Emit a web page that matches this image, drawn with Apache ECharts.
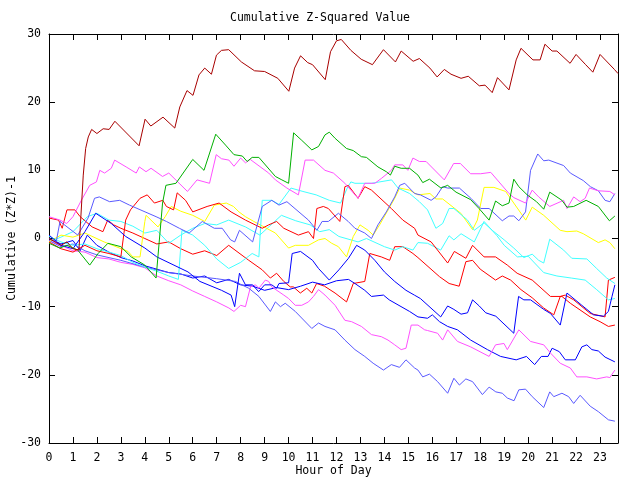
<!DOCTYPE html>
<html><head><meta charset="utf-8">
<script src="https://cdn.jsdelivr.net/npm/echarts@6/dist/echarts.min.js"></script>
<style>html,body{margin:0;padding:0;background:#fff}#c{width:640px;height:480px}</style>
</head><body><div id="c"></div>
<script>
const titleText = 'Cumulative Z-Squared Value';
const xTitle = 'Hour of Day';
const yTitle = 'Cumulative (Z*Z)-1';
const hourTicks = [0,1,2,3,4,5,6,7,8,9,10,11,12,13,14,15,16,17,18,19,20,21,22,23];

const darkRed = [[0,0],[0.5,-1],[0.75,-0.5],[1.0,-1.5],[1.25,-1.7],[1.43,9.3],[1.53,13.2],[1.64,14.9],[1.78,16.0],[2.0,15.4],[2.26,16.1],[2.51,16.0],[2.75,17.2],[3.76,13.6],[4.01,17.5],[4.25,16.5],[4.76,17.8],[5.25,16.2],[5.46,19.3],[5.76,21.7],[6.01,21.0],[6.26,24.0],[6.5,25.0],[6.78,24.1],[6.99,26.9],[7.2,27.6],[7.5,27.7],[8.03,25.9],[8.58,24.6],[9.0,24.5],[9.55,23.5],[10.01,21.6],[10.25,25.0],[10.5,26.8],[10.8,25.8],[11.0,25.5],[11.53,23.3],[11.75,27.4],[12.0,29.0],[12.2,29.2],[12.6,27.6],[13.03,26.3],[13.5,25.5],[13.96,27.7],[14.46,25.9],[14.7,27.5],[15.2,26.0],[15.46,26.4],[15.9,25.0],[16.2,23.7],[16.5,24.8],[16.78,24.1],[17.2,23.5],[17.5,23.8],[17.96,22.4],[18.2,22.5],[18.5,21.4],[18.72,23.6],[19.2,21.8],[19.5,26.2],[19.7,27.9],[20.2,26.2],[20.5,26.2],[20.7,28.5],[21.0,27.5],[21.2,27.5],[21.75,25.7],[22.0,27.0],[22.4,25.5],[22.7,24.4],[23.0,27.0],[23.6,24.8],[23.75,24.2]];

const green = [[0,-0.7],[0.45,-1.4],[0.75,-1.0],[1.2,-1.7],[1.7,-3.9],[2.05,-2.2],[2.46,-0.7],[3.0,-1.2],[3.43,-2.7],[4.0,-3.9],[4.47,-5.8],[4.74,5.2],[4.88,7.8],[5.3,8.1],[6.0,11.6],[6.47,10.0],[6.96,15.3],[7.37,13.7],[7.72,12.3],[8.07,12.1],[8.27,11.3],[8.48,11.9],[8.76,11.9],[9.45,9.1],[9.72,8.6],[10.0,8.1],[10.21,15.5],[10.55,14.4],[10.97,13.0],[11.25,13.5],[11.52,15.2],[11.7,15.6],[11.94,14.7],[12.42,13.2],[12.7,12.9],[13.04,12.0],[13.25,11.9],[13.73,10.5],[14.08,9.8],[14.25,9.3],[14.43,10.6],[14.7,10.3],[15.05,10.3],[15.4,9.3],[15.6,8.2],[15.88,8.7],[16.36,7.4],[16.64,7.8],[16.99,6.8],[17.6,5.7],[17.95,4.4],[18.37,2.7],[18.64,5.5],[18.92,4.8],[19.2,5.2],[19.4,8.7],[19.61,7.6],[19.96,6.4],[20.35,5.4],[20.65,4.3],[20.9,6.8],[21.41,5.6],[21.62,4.6],[21.9,4.7],[22.42,5.6],[22.93,4.7],[23.39,2.6],[23.62,3.3]];

const magentaUpper = [[0,3.2],[0.46,2.7],[0.74,2.2],[1.0,3.2],[1.35,5.6],[1.7,7.8],[1.98,8.3],[2.12,10.0],[2.32,9.6],[2.6,10.3],[2.74,11.5],[3.22,10.5],[3.64,9.6],[3.77,10.5],[4.05,9.8],[4.26,10.3],[4.74,9.1],[5.0,9.6],[5.78,6.9],[6.18,8.6],[6.7,8.1],[6.98,12.3],[7.2,11.7],[7.51,11.5],[7.72,10.6],[8.0,11.8],[8.2,11.1],[8.4,11.6],[9.17,9.6],[9.45,8.6],[9.93,7.4],[10.41,6.4],[10.69,11.5],[11.04,11.5],[11.52,10.0],[11.87,9.6],[12.35,8.1],[12.9,5.9],[13.18,8.1],[13.6,8.1],[13.87,8.8],[14.29,10.0],[14.43,10.8],[14.77,10.8],[14.98,10.0],[15.19,11.8],[15.46,11.3],[15.74,11.3],[16.5,8.6],[16.89,11.0],[17.17,11.0],[17.6,9.5],[18.02,9.5],[18.44,9.7],[19.2,6.6],[19.4,6.0],[19.89,5.2],[20.17,7.1],[20.44,6.1],[20.9,4.7],[21.48,5.6],[21.62,4.4],[21.9,6.1],[22.17,5.4],[22.38,5.9],[22.56,7.4],[22.93,7.0],[23.41,6.9],[23.62,6.4]];

const lightBlueUpper = [[0,0],[0.3,-0.5],[0.46,2.5],[1.2,0.5],[1.63,3.0],[1.9,5.9],[2.1,6.1],[2.53,5.4],[2.95,5.6],[3.36,4.9],[4.47,3.2],[4.9,2.5],[5.44,1.5],[5.85,0.8],[6.4,2.5],[6.9,1.5],[7.23,1.5],[7.58,-0.2],[7.75,-0.5],[7.95,1.2],[8.5,-0.5],[8.9,4.7],[9.3,5.6],[9.6,4.9],[9.93,5.4],[10.83,2.7],[11.18,1.2],[11.4,2.5],[11.66,2.5],[12.08,3.7],[12.49,2.5],[12.77,1.5],[13.18,0.8],[13.46,0],[13.73,2.0],[14.08,3.9],[14.43,6.1],[14.64,7.8],[14.85,8.1],[15.26,6.6],[15.5,6.4],[15.95,5.6],[16.15,6.1],[16.43,7.6],[16.64,7.4],[17.13,7.4],[17.61,5.9],[18.02,4.4],[18.37,4.4],[18.92,2.6],[19.2,3.3],[19.4,3.3],[19.61,2.6],[19.89,3.9],[20.1,10.0],[20.4,12.4],[20.65,11.4],[20.86,11.5],[21.48,10.7],[21.76,9.6],[22.3,8.5],[22.6,7.6],[22.93,7.0],[23.21,5.6],[23.41,5.4],[23.62,6.6]];

const yellow = [[0,-0.5],[0.5,0.5],[1.0,0.2],[1.5,0.8],[2.3,-0.5],[3.3,-1.9],[3.5,-2.7],[3.8,-2.7],[4.0,2.5],[4.05,3.4],[4.55,1.7],[4.85,3.2],[5.1,4.7],[5.5,4.0],[6.0,3.4],[6.5,2.5],[6.9,4.9],[7.4,5.2],[7.7,4.7],[7.93,3.9],[8.2,3.2],[8.55,2.5],[9.45,0.8],[10.0,-1.4],[10.28,-1.0],[10.83,-1.0],[11.25,-0.2],[11.52,0],[11.8,-0.7],[12.08,-1.2],[12.42,-2.7],[12.7,0.3],[12.98,2.0],[13.32,1.2],[13.53,0.5],[13.8,2.0],[14.43,5.9],[14.64,7.4],[15.05,7.1],[15.4,6.4],[15.9,6.6],[16.15,5.8],[16.43,5.8],[17.19,3.7],[17.68,1.3],[17.88,2.7],[18.16,7.5],[18.57,7.5],[19.06,6.9],[19.9,2.7],[20.17,4.6],[20.65,3.4],[21.34,1.2],[21.62,1.0],[22.03,1.1],[22.3,0.7],[22.93,-0.6],[23.21,-0.2],[23.41,-0.6],[23.62,-1.5]];

const cyanA = [[0,0.3],[0.5,-0.5],[1.0,-1.0],[1.5,-0.8],[2.0,-1.5],[2.5,-2.0],[3.0,-2.5],[3.5,-3.5],[4.0,-4.2],[4.5,-4.8],[5.0,-5.5],[5.4,-6.0],[5.55,1.2],[6.0,0.5],[6.5,-1.0],[7.0,-3.0],[7.5,-4.4],[8.0,-3.5],[8.48,-2.2],[8.76,-2.7],[8.9,5.6],[9.3,5.6],[9.6,5.0],[10.1,7.4],[10.6,6.9],[11.15,6.4],[11.7,5.6],[12.17,5.2],[12.45,7.4],[12.6,8.3],[12.77,8.1],[13.46,8.1],[14.3,8.6],[14.57,7.4],[15.05,6.6],[15.46,5.4],[15.8,4.2],[16.15,1.5],[16.43,2.2],[16.7,4.4],[16.9,4.4],[17.47,2.7],[17.75,1.2],[18.16,2.3],[18.5,1.2],[19.0,-0.2],[19.4,-1.4],[19.82,-2.8],[20.17,-2.3],[20.44,-3.2],[20.65,-3.6],[20.9,-0.1],[21.48,-1.7],[21.82,-2.9],[22.45,-3.0],[22.86,-4.4],[23.28,-5.8],[23.62,-6.6]];

const cyanB = [[0,-0.5],[0.5,0.2],[1.0,1.0],[1.6,3.2],[2.0,3.7],[2.5,2.7],[3.0,2.5],[3.5,1.8],[4.0,0.8],[4.5,1.2],[5.0,-0.7],[5.5,0.5],[6.0,1.5],[6.5,2.2],[7.0,2.0],[7.5,2.7],[8.2,1.7],[8.8,0.5],[9.7,3.4],[10.3,2.6],[10.9,2.0],[11.3,1.0],[11.7,1.3],[12.1,0.3],[12.9,-0.5],[13.25,0],[14.0,-1.2],[14.43,-1.7],[14.77,-1.2],[15.19,-1.7],[15.4,-0.6],[15.8,-0.7],[16.35,-1.7],[16.7,0.4],[16.9,-0.2],[17.2,0.7],[17.75,-0.5],[18.16,2.5],[18.7,0.4],[19.0,-1.0],[19.55,-2.7],[20.0,-2.6],[20.65,-5.0],[21.2,-5.5],[21.8,-5.8],[22.38,-6.1],[22.86,-7.5],[23.35,-9.0],[23.62,-8.8]];

const redA = [[0,-0.5],[0.5,-1.5],[1.0,-2.0],[1.5,-1.0],[2.0,-1.8],[2.5,-2.2],[3.0,-2.7],[3.2,2.7],[3.4,4.2],[3.8,5.9],[4.1,6.4],[4.4,5.2],[4.75,5.6],[4.9,4.7],[5.2,4.2],[5.35,6.7],[5.7,5.6],[6.0,3.9],[6.6,4.7],[7.1,5.2],[7.6,3.9],[8.2,2.7],[8.9,1.5],[9.17,2.0],[9.5,2.5],[9.8,1.5],[10.41,0.5],[10.83,1.0],[11.04,0],[11.18,4.4],[11.45,4.7],[11.66,4.4],[12.14,2.5],[12.35,7.6],[12.49,7.8],[12.9,5.9],[13.18,7.6],[13.46,7.1],[14.29,4.4],[14.77,2.7],[15.26,1.5],[15.4,0.5],[15.95,-0.5],[16.64,-3.6],[16.92,-1.9],[17.4,-2.9],[17.68,-1.0],[18.16,-2.7],[18.64,-2.7],[19.13,-3.9],[19.54,-5.1],[20.17,-6.1],[20.93,-8.5],[21.41,-8.5],[21.76,-9.5],[22.59,-11.5],[23.0,-12.2],[23.35,-12.9],[23.62,-12.7]];

const redB = [[0,3.0],[0.4,2.7],[0.55,1.5],[0.75,4.2],[1.08,4.2],[1.3,3.2],[1.8,1.7],[2.25,1.0],[2.45,2.7],[2.7,2.0],[3.0,1.5],[3.5,0.8],[4.0,0.0],[4.5,-0.8],[5.0,-0.5],[5.5,-1.5],[6.0,-2.3],[6.5,-1.8],[7.0,-2.5],[7.5,-1.0],[8.34,-3.2],[8.9,-4.6],[9.24,-5.8],[9.5,-5.1],[9.8,-6.3],[10.07,-7.1],[10.2,-7.1],[10.49,-8.0],[10.76,-7.3],[10.97,-8.0],[11.17,-6.6],[11.5,-7.0],[11.94,-8.0],[12.42,-9.3],[12.7,-6.6],[13.18,-6.3],[13.39,-2.2],[13.87,-2.7],[14.22,-3.2],[14.43,-1.2],[14.77,-1.2],[15.19,-2.2],[15.4,-2.8],[16.3,-5.6],[16.7,-6.6],[17.12,-7.0],[17.4,-3.4],[17.68,-3.2],[18.0,-4.5],[18.64,-6.1],[18.92,-5.5],[19.27,-6.1],[19.7,-7.5],[20.17,-8.7],[20.65,-10.2],[21.07,-11.2],[21.34,-8.5],[21.55,-8.3],[21.9,-9.0],[22.59,-11.0],[23.21,-11.5],[23.35,-6.1],[23.62,-5.7]];

const blueA = [[0,0.5],[0.5,-1.0],[1.0,-1.5],[1.5,1.0],[1.95,3.7],[2.6,2.2],[3.2,0.3],[4.0,-1.4],[4.5,-2.7],[5.8,-4.9],[6.3,-6.3],[7.2,-7.6],[7.6,-8.3],[7.75,-10.0],[7.95,-5.1],[8.2,-6.8],[8.5,-6.8],[8.75,-7.8],[9.0,-6.8],[9.3,-6.8],[9.5,-7.3],[9.6,-6.6],[10.0,-6.5],[10.15,-2.2],[10.5,-1.9],[11.0,-3.2],[11.25,-4.4],[11.7,-6.1],[12.1,-4.6],[12.5,-2.9],[12.84,-1.0],[13.18,-1.7],[13.6,-3.2],[14.0,-4.9],[14.43,-6.3],[14.9,-7.6],[15.25,-8.3],[15.5,-8.8],[16.35,-11.5],[16.64,-9.9],[16.9,-10.4],[17.2,-11.1],[17.47,-10.9],[17.68,-9.0],[17.96,-9.9],[18.23,-10.9],[18.65,-11.4],[19.4,-13.9],[19.6,-8.5],[19.82,-9.0],[20.1,-9.0],[20.65,-10.4],[20.93,-11.0],[21.34,-12.7],[21.62,-8.0],[22.24,-9.8],[22.73,-11.2],[23.14,-11.4],[23.35,-10.7],[23.5,-8.5],[23.62,-6.8]];

const blueB = [[0,0],[0.5,-0.8],[1.0,-0.3],[1.3,-1.8],[1.6,0.5],[2.0,-1.0],[2.5,-2.0],[3.0,-2.8],[3.5,-3.3],[4.0,-4.0],[4.5,-4.5],[5.0,-5.0],[5.5,-5.2],[6.0,-5.8],[6.5,-5.5],[7.0,-6.5],[7.5,-6.0],[8.0,-6.8],[8.5,-7.0],[9.0,-7.6],[9.5,-7.2],[10.0,-7.5],[10.5,-7.0],[11.0,-6.4],[11.5,-6.8],[12.0,-6.2],[12.5,-6.0],[12.77,-6.6],[13.18,-7.6],[13.46,-8.5],[13.96,-8.3],[14.2,-9.0],[15.05,-10.7],[15.4,-11.5],[15.8,-11.7],[16.0,-11.2],[16.3,-12.2],[16.64,-12.9],[17.05,-13.4],[17.6,-14.9],[18.3,-16.3],[18.85,-17.3],[19.5,-17.8],[19.93,-17.3],[20.27,-18.5],[20.55,-17.3],[20.83,-17.3],[21.0,-16.1],[21.3,-16.6],[21.55,-17.8],[21.97,-17.8],[22.24,-15.9],[22.45,-15.6],[22.66,-16.3],[22.93,-16.5],[23.21,-17.4],[23.62,-18.1]];

const magentaLower = [[0,-0.3],[0.5,-1.0],[1.0,-1.8],[1.5,-2.0],[2.0,-2.8],[2.5,-3.0],[3.0,-3.5],[3.5,-3.8],[4.0,-4.3],[4.5,-5.5],[5.0,-6.2],[5.5,-6.8],[6.0,-7.7],[6.5,-8.5],[7.0,-9.3],[7.51,-10.2],[7.72,-10.7],[8.0,-9.8],[8.2,-10.0],[8.41,-7.1],[8.62,-6.8],[8.76,-7.3],[9.03,-6.1],[9.17,-6.3],[9.3,-7.1],[9.8,-8.3],[10.0,-8.8],[10.28,-9.8],[10.55,-9.8],[10.83,-9.3],[11.04,-8.5],[11.25,-7.5],[11.52,-8.3],[11.94,-9.8],[12.35,-12.0],[12.63,-12.2],[13.04,-12.9],[13.46,-14.1],[13.87,-14.4],[14.15,-14.9],[14.43,-15.6],[14.7,-16.3],[14.9,-16.1],[15.12,-12.7],[15.4,-12.7],[15.68,-13.4],[15.8,-13.5],[16.22,-13.9],[16.43,-14.9],[16.64,-13.4],[17.05,-15.1],[17.6,-15.9],[18.37,-17.3],[18.64,-15.6],[18.99,-15.4],[19.13,-16.3],[19.61,-13.4],[20.1,-15.1],[20.65,-15.6],[20.93,-16.8],[21.34,-18.3],[21.76,-19.0],[22.03,-20.3],[22.45,-20.3],[22.86,-20.6],[23.28,-20.3],[23.41,-20.4],[23.62,-19.3]];

const lightBlueLower = [[0,-0.3],[0.5,-1.2],[1.0,-0.8],[1.5,-1.8],[2.0,-2.4],[3.0,-3.2],[4.0,-4.2],[5.0,-5.0],[6.0,-5.5],[7.0,-5.9],[7.79,-6.3],[7.93,-6.6],[8.34,-7.3],[8.76,-8.5],[9.24,-10.7],[9.45,-9.3],[9.66,-10.0],[9.86,-9.5],[10.28,-10.7],[10.97,-13.2],[11.25,-12.4],[11.52,-12.9],[11.94,-13.4],[12.35,-14.9],[12.77,-16.3],[13.18,-17.3],[13.53,-18.3],[13.96,-19.3],[14.29,-18.5],[14.63,-18.9],[14.9,-17.8],[15.26,-19.0],[15.4,-19.3],[15.6,-20.3],[15.88,-19.9],[16.22,-21.0],[16.64,-22.7],[16.9,-20.5],[17.13,-21.5],[17.4,-20.6],[17.68,-21.0],[18.09,-22.9],[18.37,-21.8],[18.65,-22.5],[18.92,-22.7],[19.13,-23.4],[19.41,-23.8],[19.61,-22.2],[19.89,-22.1],[20.17,-23.2],[20.65,-24.8],[20.9,-22.5],[21.07,-23.2],[21.41,-22.7],[21.69,-23.2],[21.9,-24.2],[22.17,-23.0],[22.59,-24.6],[22.93,-25.4],[23.35,-26.6],[23.62,-26.8]];

const seriesList = [
  {name:'red B', data:redB, color:'#ff0000'},
  {name:'blue B', data:blueB, color:'#0000ff'},
  {name:'magenta lower', data:magentaLower, color:'#ff50ff'},
  {name:'cyan B', data:cyanB, color:'#40ffff'},
  {name:'light blue lower', data:lightBlueLower, color:'#5a5aff'},
  {name:'yellow', data:yellow, color:'#ffff00'},
  {name:'cyan A', data:cyanA, color:'#40ffff'},
  {name:'red A', data:redA, color:'#ff0000'},
  {name:'blue A', data:blueA, color:'#0000ff'},
  {name:'light blue upper', data:lightBlueUpper, color:'#5a5aff'},
  {name:'magenta upper', data:magentaUpper, color:'#ff50ff'},
  {name:'green', data:green, color:'#00b000'},
  {name:'dark red', data:darkRed, color:'#a80000'}
];

const font = 'DejaVu Sans Mono';
function axisCommon(extra){
  return Object.assign({
    axisLine:{show:true,onZero:false,lineStyle:{color:'#000',width:1}},
    axisTick:{show:true,inside:true,length:6,lineStyle:{color:'#000',width:1}},
    splitLine:{show:false}
  }, extra);
}
const chart = echarts.init(document.getElementById('c'), null, {renderer:'canvas'});
chart.setOption({
  animation:false,
  backgroundColor:'#fff',
  title:{text:titleText,left:'center',top:7,textStyle:{fontFamily:font,fontSize:11.5,fontWeight:'normal',color:'#000'}},
  grid:{left:49,right:22,top:34,bottom:37,containLabel:false,outerBoundsMode:'none'},
  xAxis:[
    axisCommon({type:'value',min:0,max:23.75,interval:1,position:'bottom',
      name:xTitle,nameLocation:'middle',nameGap:22,nameMoveOverlap:false,
      nameTextStyle:{fontFamily:font,fontSize:11.5,color:'#000'},
      axisLabel:{color:'#000',fontFamily:font,fontSize:11.5,margin:9,showMaxLabel:false,
        formatter:function(v){return hourTicks.indexOf(v)>=0 ? String(v) : '';}}}),
    axisCommon({type:'value',min:0,max:23.75,interval:1,position:'top',axisLabel:{show:false}})
  ],
  yAxis:[
    axisCommon({type:'value',min:-30,max:30,interval:10,position:'left',
      name:yTitle,nameLocation:'middle',nameGap:31,nameRotate:90,nameMoveOverlap:false,
      nameTextStyle:{fontFamily:font,fontSize:11.5,color:'#000'},
      axisLabel:{color:'#000',fontFamily:font,fontSize:11.5,margin:8}}),
    axisCommon({type:'value',min:-30,max:30,interval:10,position:'right',axisLabel:{show:false}})
  ],
  series: seriesList.map(function(s){
    return {name:s.name,type:'line',xAxisIndex:0,yAxisIndex:0,data:s.data,showSymbol:false,symbol:'none',
      lineStyle:{color:s.color,width:1},itemStyle:{color:s.color},emphasis:{disabled:true},silent:true};
  })
});
</script></body></html>
